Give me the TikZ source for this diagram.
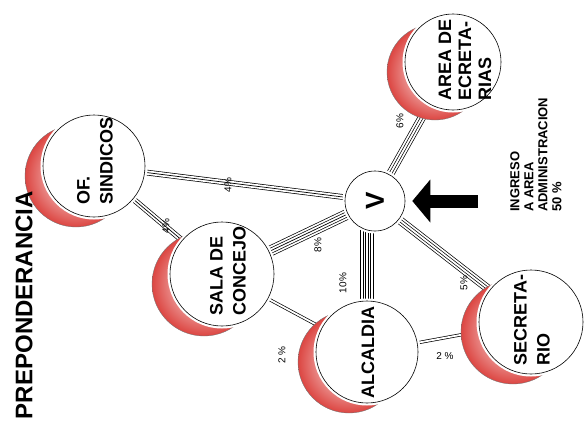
\documentclass[tikz,border=0pt]{standalone}
\usepackage{fontspec}
\setmainfont{Liberation Sans}
\usetikzlibrary{arrows.meta,calc}
\pgfdeclarelayer{wires}
\pgfdeclarelayer{shadows}
\pgfsetlayers{wires,shadows,main}
\definecolor{crescred}{RGB}{220,70,66}

\begin{document}
\begin{tikzpicture}[
  x=1pt, y=-1pt,
  office/.style={circle, draw, line width=0.6pt, fill=white, inner sep=0pt, preaction={draw=white, line width=5pt}},
  officetext/.style={rotate=90, align=left, inner sep=0pt, font=\bfseries\fontsize{18}{23}\selectfont},
  pct/.style={rotate=90, inner sep=1pt, font=\fontsize{10}{12}\selectfont},
  crescent/.style={inner color=white, outer color=crescred, draw=black!55, line width=0.35pt},
  wire2/.style={draw, line width=3.2pt, postaction={draw=white, line width=1.8pt}},
  wire3/.style={draw, line width=5.7pt, postaction={draw=white, line width=4.3pt}, postaction={draw=black, line width=0.7pt}},
  wire4/.style={draw, line width=8.2pt, postaction={draw=white, line width=6.8pt}, postaction={draw=black, line width=3.2pt}, postaction={draw=white, line width=1.8pt}},
  wire5/.style={draw, line width=10.7pt, postaction={draw=white, line width=9.3pt}, postaction={draw=black, line width=5.7pt}, postaction={draw=white, line width=4.3pt}, postaction={draw=black, line width=0.7pt}},
  wire6/.style={draw, line width=13.2pt, postaction={draw=white, line width=11.8pt}, postaction={draw=black, line width=8.2pt}, postaction={draw=white, line width=6.8pt}, postaction={draw=black, line width=3.2pt}, postaction={draw=white, line width=1.8pt}},
  bigarrow/.style={line width=13pt, -{Triangle[length=18pt, width=43pt, line width=0pt]}, shorten >=7pt}
]
\useasboundingbox (0,0) rectangle (585,423);

% offices
\node[office, minimum size=102pt] (sindicos) at (94,166) {};
\node[office, minimum size=104pt] (sala) at (222,274) {};
\node[office, minimum size=102pt] (alcaldia) at (367,352) {};
\node[office, minimum size=104pt] (secretario) at (531,322) {};
\node[office, minimum size=96pt] (area) at (453,62) {};
\node[office, minimum size=60pt, rotate=90, font=\bfseries\fontsize{26}{26}\selectfont] (v) at (375,201) {V};

\node[officetext] (sindicos-txt) at (95,161) {OF.\\SINDICOS};
\node[officetext] (sala-txt) at (228,271) {SALA DE\\CONCEJO};
\node[officetext] (alcaldia-txt) at (368,352) {ALCALDIA};
\node[officetext] (secretario-txt) at (532,320) {SECRETA-\\RIO};
\node[officetext, font=\bfseries\fontsize{18}{20}\selectfont] (area-txt) at (465,60) {AREA DE\\ECRETA-\\RIAS};

% red crescents
\begin{pgfonlayer}{shadows}
\foreach \n/\r in {sindicos/51,sala/52,alcaldia/51,secretario/52,area/48}
  \shadedraw[crescent] ([shift={(-18,10)}]\n.center) circle[radius=\r];
\end{pgfonlayer}

% connectors
\begin{pgfonlayer}{wires}
\draw[wire3] (v) -- (sindicos);
\draw[wire3] (sindicos) -- (sala);
\draw[wire5] (v) -- (sala);
\draw[wire6] (alcaldia |- v.south) -- (alcaldia);
\draw[wire4] (v) -- (secretario);
\draw[wire4] (v) -- (area);
\draw[wire2] (sala) -- (alcaldia);
\draw[wire2] (alcaldia) -- (secretario);
\end{pgfonlayer}

\node[pct] (pct-sindicos) at (228,185) {4\%};
\node[pct] (pct-sindsala) at (166,226) {4\%};
\node[pct] (pct-sala) at (318,245) {8\%};
\node[pct] (pct-alcaldia) at (343,283) {10\%};
\node[pct] (pct-secretario) at (464,283) {5\%};
\node[pct] (pct-area) at (400,121) {6\%};
\node[pct] (pct-salaalc) at (282,355) {2 \%};
\node[pct, rotate=-90] (pct-alcsec) at (445,356) {2 \%};

% ingreso
\coordinate (arrow-tail) at (478,201);
\draw[bigarrow] (arrow-tail) -- (v);
\node[rotate=90, anchor=north west, align=left, inner sep=0pt, font=\bfseries\fontsize{13}{14}\selectfont] (ingreso) at (510,212) {INGRESO\\A AREA\\ADMINISTRACION\\50 \%};

\node[rotate=90, inner sep=0pt, font=\bfseries\fontsize{24}{24}\selectfont] (title) at (24,305) {PREPONDERANCIA};
\end{tikzpicture}
\end{document}
